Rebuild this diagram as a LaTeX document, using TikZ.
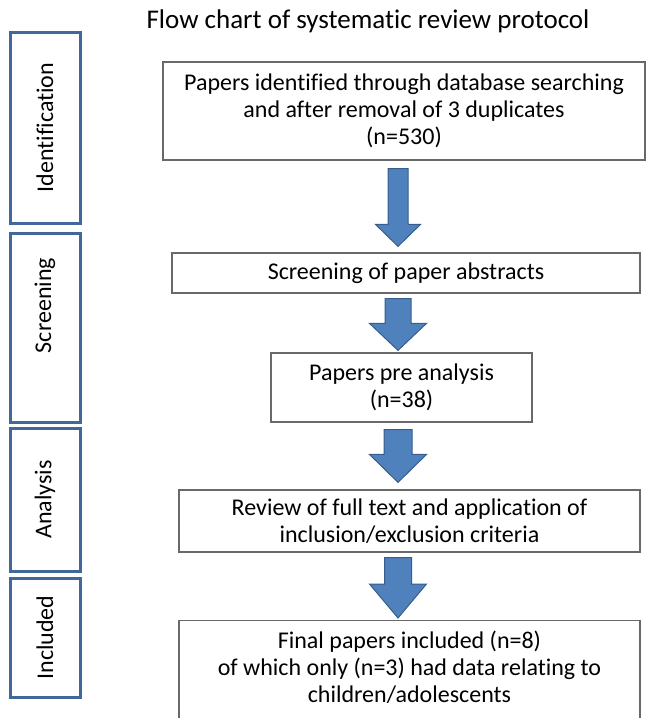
\documentclass[tikz,border=0pt]{standalone}
\usepackage{fontspec}
\setmainfont{Carlito}[Ligatures=NoCommon]
\usetikzlibrary{calc}
\definecolor{stagecolor}{RGB}{65,104,154}
\definecolor{arrowcolor}{RGB}{79,129,189}
\definecolor{arrowedge}{RGB}{56,93,138}
\definecolor{boxcolor}{RGB}{105,105,105}

\begin{document}
\begin{tikzpicture}[x=1pt, y=-1pt, font=\fontsize{24}{27}\selectfont,
    stage/.style={draw=stagecolor, line width=3pt, rotate=90, inner sep=0pt, minimum height=70pt},
    stepbox/.style={draw=boxcolor, line width=1.2pt, align=center, inner sep=0pt},
    blockarrow/.style n args={3}{draw=arrowedge, fill=arrowcolor, line width=1pt,
      to path={let \p1=(\tikztostart), \p2=(\tikztotarget) in
        (\x1-#1,\y1) -- (\x1+#1,\y1) -- (\x1+#1,\y2+#3) -- (\x1+#2,\y2+#3)
        -- (\x1,\y2) -- (\x1-#2,\y2+#3) -- (\x1-#1,\y2+#3) -- cycle}}]
    \useasboundingbox (0,0) rectangle (646,718);

    \node[font=\fontsize{27}{30}\selectfont] (title) at (368,21) {Flow chart of systematic review protocol};

    % stages on the left
    \node[stage, minimum width=191pt] (ident) at (45,127.5) {Identification};
    \node[stage, minimum width=189pt] (screen) at (45,327.5) {\hspace*{44pt}Screening};
    \node[stage, minimum width=143pt] (anal) at (45,499.5) {Analysis};
    \node[stage, minimum width=119pt] (incl) at (45,637.5) {Included};

    % flow boxes
    \node[stepbox, minimum width=482pt, minimum height=98pt] (B1) at (404,111)
        {Papers identified through database searching\\and after removal of 3 duplicates\\(n=530)};
    \node[stepbox, minimum width=468pt, minimum height=40pt] (B2) at (406,273)
        {Screening of paper abstracts};
    \node[stepbox, minimum width=261pt, minimum height=69pt] (B3) at (401.5,387.5)
        {Papers pre analysis\\(n=38)};
    \node[stepbox, minimum width=461pt, minimum height=62pt] (B4) at (409.5,521)
        {Review of full text and application of\\inclusion/exclusion criteria};
    \node[stepbox, anchor=north, minimum width=461pt, inner ysep=10pt, text depth=22pt] (B5) at (409.5,620)
        {Final papers included (n=8)\\of which only (n=3) had data relating to\\children/adolescents};

    \coordinate (axis) at (398,0);
    \path[blockarrow={10pt}{22.5pt}{22pt}] ($(axis |- B1.south)+(0,8)$) to ($(axis |- B2.north)+(0,-6)$);
    \path[blockarrow={13pt}{28.5pt}{27pt}] ($(axis |- B2.south)+(0,5)$) to ($(axis |- B3.north)+(0,-2)$);
    \path[blockarrow={14pt}{28.5pt}{28pt}] ($(axis |- B3.south)+(0,7)$) to ($(axis |- B4.north)+(0,-7)$);
    \path[blockarrow={13.5pt}{28.5pt}{34pt}] ($(axis |- B4.south)+(0,5)$) to ($(axis |- B5.north)+(0,-2)$);
\end{tikzpicture}
\end{document}
